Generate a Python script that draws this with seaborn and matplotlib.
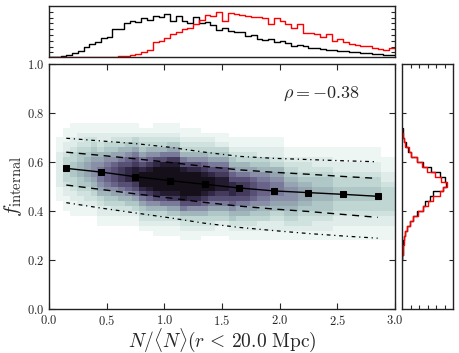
import numpy as np
import pandas as pd
import matplotlib
matplotlib.use("Agg")
import matplotlib.pyplot as plt
import seaborn as sns

sns.set_style("ticks")
plt.rcParams["font.family"] = ["cmr10", "DejaVu Serif"]
plt.rcParams["mathtext.fontset"] = "cm"
plt.rcParams["axes.formatter.use_mathtext"] = True

# binned median / percentile curves of f_internal vs overdensity
bin_x = [0.15, 0.45, 0.75, 1.05, 1.35, 1.65, 1.95, 2.25, 2.55, 2.85]
f_median = [0.574, 0.559, 0.540, 0.524, 0.509, 0.494, 0.482, 0.475, 0.468, 0.460]
f_p16 = [0.506, 0.488, 0.470, 0.453, 0.435, 0.420, 0.408, 0.398, 0.386, 0.374]
f_p84 = [0.640, 0.627, 0.613, 0.598, 0.582, 0.568, 0.558, 0.550, 0.541, 0.533]
f_p02 = [0.434, 0.412, 0.392, 0.372, 0.350, 0.333, 0.320, 0.308, 0.298, 0.289]
f_p98 = [0.697, 0.686, 0.675, 0.660, 0.640, 0.623, 0.615, 0.610, 0.605, 0.601]
rho_text = r"$\rho = -0.38$"

# top histogram: N/<N>, 60 bins of 0.05 on [0, 3]
top_black = [0, 0, 4, 7, 12, 17, 29, 40, 44, 57, 60, 84, 84, 102, 110, 107, 117, 112, 124, 120,
             129, 110, 124, 110, 104, 120, 102, 107, 97, 82, 87, 80, 74, 77, 62, 67, 54, 52, 54, 44,
             47, 42, 32, 37, 32, 27, 27, 24, 22, 20, 18, 17, 15, 14, 12, 12, 10, 9, 7, 7]
top_red = [0, 0, 0, 0, 0, 0, 0, 0, 0, 0, 0, 0, 2, 4, 7, 10, 14, 22, 44, 47,
           57, 69, 77, 84, 87, 100, 112, 127, 124, 137, 110, 134, 130, 127, 124, 122, 120, 117, 100, 117,
           110, 100, 87, 100, 72, 72, 70, 60, 70, 47, 54, 44, 40, 37, 34, 32, 27, 24, 22, 27]

# right histogram: f_internal, bins of 0.02 on [0.20, 0.74]
right_black = [1, 2, 3, 4, 6, 9, 16, 24, 34, 44, 64, 69, 84, 94, 124, 132, 129, 114, 89, 64,
               44, 26, 19, 12, 6, 4, 2]
right_red = [1, 2, 3, 5, 7, 10, 16, 24, 34, 49, 64, 79, 94, 114, 124, 136, 119, 99, 74, 59,
             44, 28, 20, 9, 5, 3, 1]

# 2D histogram shade (0 = empty, 1..9 then a..j = 10..19), one string per x column
# (width 0.06, starting at 0), rows from f = 0.77 (top) down to f = 0.21, step 0.02
density_cols = [
    "00000000000000000000000000000",
    "0000111222222211100000" "0000000",
    "0011122344444322111000" "0000000",
    "0111223445554432211100" "0000000",
    "0112234556665543221100" "0000000",
    "0112334567776543321100" "0000000",
    "0112345678887654321100" "0000000",
    "01122346789998764322110" "000000",
    "0112245689aaa9865422110" "000000",
    "011234578abbba875432110" "000000",
    "011234679bcccb976432110" "000000",
    "01123568abdddba86532110" "000000",
    "01124579bceeecb97542110" "000000",
    "0" "01234579bdfffdb97543210" "00000",
    "0" "0123468acegggeca8643210" "00000",
    "0" "1123468bdfghgfdb8643211" "00000",
    "0" "1123469beghihgeb9643211" "00000",
    "0" "1123579cehijihec9753211" "00000",
    "0" "1123579cehijihec9753211" "00000",
    "00" "1123469beghihgeb9643211" "0000",
    "00" "1123468bdfghgfdb8643211" "0000",
    "00" "1123468bdfghgfdb8643211" "0000",
    "00" "0123468acegggeca8643210" "0000",
    "00" "01234579bdfffdb97543210" "0000",
    "00" "01124579bceeecb97542110" "0000",
    "00" "01124579bceeecb97542110" "0000",
    "000" "01123568abdddba86532110" "000",
    "000" "011234679bcccb976432110" "000",
    "000" "011234679bcccb976432110" "000",
    "000" "011234578abbba875432110" "000",
    "000" "0112245689aaa9865422110" "000",
    "000" "0112245689aaa9865422110" "000",
    "000" "01122346789998764322110" "000",
    "000" "01122346789998764322110" "000",
    "0000" "00112345678887654321100" "00",
    "0000" "00112345678887654321100" "00",
    "0000" "00112334567776543321100" "00",
    "0000" "00112334567776543321100" "00",
    "0000" "00112234556665543221100" "00",
    "0000" "00112234556665543221100" "00",
    "0000" "00112234556665543221100" "00",
    "0000" "00111223445554432211100" "00",
    "0000" "00111223445554432211100" "00",
    "0000" "00111223445554432211100" "00",
    "0000" "00111223445554432211100" "00",
    "0000" "00111223445554432211100" "00",
    "0000" "00111223445554432211100" "00",
    "0000" "00111223445554432211100" "00",
    "00000" "00011122344444322111000" "0",
    "00000" "00011122344444322111000" "0",
]
shade_colors = ["#eef6f4", "#d3e5e1", "#b7cfcc", "#9db2b7", "#8890a7",
                "#6e6890", "#4e4569", "#2d2440", "#150f1a"]

# bin edges / centres
x_edges = np.linspace(0, 3, 51).tolist()
f_edges = np.linspace(0, 1, 51).tolist()
top_edges = np.linspace(0, 3, 61)
right_edges = np.linspace(0.20, 0.74, 28)

top_df = pd.DataFrame({"x": top_edges[:-1] + 0.025, "black": top_black, "red": top_red})
right_df = pd.DataFrame({"f": right_edges[:-1] + 0.01, "black": right_black, "red": right_red})

grid = np.array([[int(c, 36) for c in col.ljust(29, "0")[:29]] for col in density_cols],
                dtype=float)
col_x = 0.03 + 0.06 * np.arange(grid.shape[0])
row_f = 0.77 - 0.02 * np.arange(grid.shape[1])
gx, gf = np.meshgrid(col_x, row_f, indexing="ij")
dens_df = pd.DataFrame({"x": gx.ravel(), "f": gf.ravel(), "w": grid.ravel()})

fig = plt.figure(figsize=(4.6, 3.53), dpi=100)
ax = fig.add_axes([49 / 460, 44 / 353, 346 / 460, 245 / 353])
ax_top = fig.add_axes([49 / 460, 296 / 353, 346 / 460, 51 / 353])
ax_right = fig.add_axes([402 / 460, 44 / 353, 51 / 460, 245 / 353])

cmap = sns.blend_palette(shade_colors, as_cmap=True)
sns.histplot(data=dens_df, x="x", y="f", weights="w", bins=[x_edges, f_edges],
             cmap=cmap, vmin=1, vmax=15, ax=ax)

sns.lineplot(x=bin_x, y=f_p98, color="k", lw=0.9, linestyle=(0, (3, 3, 1, 3)), ax=ax)
sns.lineplot(x=bin_x, y=f_p02, color="k", lw=0.9, linestyle=(0, (3, 3, 1, 3)), ax=ax)
sns.lineplot(x=bin_x, y=f_p84, color="k", lw=1.0, linestyle=(0, (5, 4)), ax=ax)
sns.lineplot(x=bin_x, y=f_p16, color="k", lw=1.0, linestyle=(0, (5, 4)), ax=ax)
sns.lineplot(x=bin_x, y=f_median, color="k", lw=1.0, marker="s", markersize=5,
             markeredgecolor="k", ax=ax)

ax.text(2.03, 0.88, rho_text, fontsize=13, va="center", ha="left")
ax.set_xlim(0, 3)
ax.set_ylim(0, 1)
ax.set_xticks(np.arange(0, 3.01, 0.5))
ax.set_yticks(np.arange(0, 1.01, 0.2))
ax.set_xlabel(r"$N/\langle N\rangle(r\,<\,20.0\ \mathrm{Mpc})$", fontsize=14, labelpad=-1)
ax.set_ylabel(r"$f_{\rm internal}$", fontsize=15, labelpad=2)
ax.tick_params(direction="in", top=True, right=True, labelsize=9, length=4, width=0.8)

for col, c in [("black", "k"), ("red", "red")]:
    sns.histplot(data=top_df, x="x", weights=col, binwidth=0.05, binrange=(0, 3),
                 element="step", fill=False, color=c, lw=1.0, ax=ax_top)
    sns.histplot(data=right_df, y="f", weights=col, binwidth=0.02, binrange=(0.20, 0.74),
                 element="step", fill=False, color=c, lw=1.0, ax=ax_right)

ax_top.set_xlim(0, 3)
ax_top.set_ylim(0, 154)
ax_top.set_xticks([])
ax_top.set_yticks(np.arange(14, 150, 17.5))
ax_top.set_yticklabels([])
ax_top.set_xlabel("")
ax_top.set_ylabel("")
ax_top.tick_params(direction="in", left=True, right=True, length=3, width=0.8)

ax_right.set_ylim(0, 1)
ax_right.set_xlim(0, 154)
ax_right.set_yticks(np.arange(0.2, 0.81, 0.2))
ax_right.set_xticks(np.arange(26, 150, 26))
ax_right.set_xticklabels([])
ax_right.set_yticklabels([])
ax_right.set_xlabel("")
ax_right.set_ylabel("")
ax_right.tick_params(direction="in", top=True, right=True, length=3, width=0.8)

for a in (ax, ax_top, ax_right):
    for s in a.spines.values():
        s.set_visible(True)
        s.set_linewidth(1.0)
        s.set_color("#222222")

fig.savefig("out.png", dpi=100)
